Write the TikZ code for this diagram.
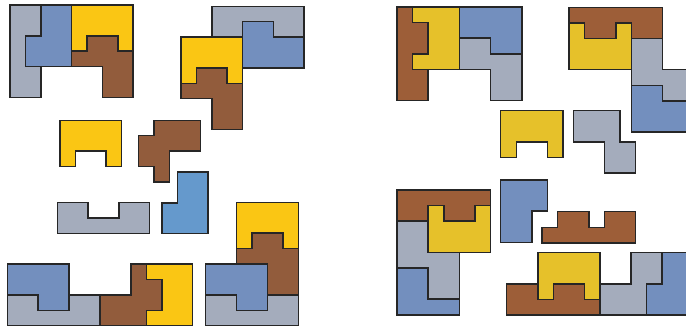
\documentclass[tikz,border=0pt]{standalone}
\definecolor{yelL}{HTML}{FAC614}
\definecolor{yelR}{HTML}{E6C12A}
\definecolor{brnL}{HTML}{925C3C}
\definecolor{brnR}{HTML}{9D5E38}
\definecolor{gry}{HTML}{A4ACBC}
\definecolor{blu}{HTML}{738FBE}
\definecolor{bluL}{HTML}{6599CC}
\tikzset{
  pc/.style={draw=black!85, line width=1.5pt, line join=miter},
  ylL/.style={pc, fill=yelL},
  ylR/.style={pc, fill=yelR},
  brL/.style={pc, fill=brnL},
  brR/.style={pc, fill=brnR},
  gr/.style={pc, fill=gry},
  bl/.style={pc, fill=blu},
  blL/.style={pc, fill=bluL},
}
\begin{document}
\begin{tikzpicture}
\useasboundingbox (0,0) rectangle (686pt,-326pt);
\clip (0,0) rectangle (686pt,-326pt);
\fill[white] (0,0) rectangle (686pt,-326pt);
% G1
\begin{scope}[shift={(10pt,-5pt)},x=15.4pt,y=-15.4pt]
\draw[gr] (0,0)--(2,0)--(2,2)--(1,2)--(1,4)--(2,4)--(2,6)--(0,6)--cycle;
\draw[bl] (2,0)--(4,0)--(4,4)--(1,4)--(1,2)--(2,2)--cycle;
\draw[ylL] (4,0)--(8,0)--(8,3)--(7,3)--(7,2)--(5,2)--(5,3)--(4,3)--cycle;
\draw[brL] (4,3)--(5,3)--(5,2)--(7,2)--(7,3)--(8,3)--(8,6)--(6,6)--(6,4)--(4,4)--cycle;
\end{scope}
% G2
\begin{scope}[shift={(181pt,-6.3pt)},x=15.4pt,y=-15.4pt]
\draw[gr] (2,0)--(8,0)--(8,2)--(6,2)--(6,1)--(4,1)--(4,2)--(2,2)--cycle;
\draw[bl] (4,1)--(6,1)--(6,2)--(8,2)--(8,4)--(4,4)--cycle;
\draw[ylL] (0,2)--(4,2)--(4,5)--(3,5)--(3,4)--(1,4)--(1,5)--(0,5)--cycle;
\draw[brL] (0,5)--(1,5)--(1,4)--(3,4)--(3,5)--(4,5)--(4,8)--(2,8)--(2,6)--(0,6)--cycle;
\end{scope}
% loose left
\begin{scope}[shift={(60pt,-120.3pt)},x=15.4pt,y=-15.4pt]
\draw[ylL] (0,0)--(4,0)--(4,3)--(3,3)--(3,2)--(1,2)--(1,3)--(0,3)--cycle;
\end{scope}
\begin{scope}[shift={(138.7pt,-120.3pt)},x=15.4pt,y=-15.4pt]
\draw[brL] (1,0)--(4,0)--(4,2)--(2,2)--(2,4)--(1,4)--(1,3)--(0,3)--(0,1)--(1,1)--cycle;
\end{scope}
\begin{scope}[shift={(57.3pt,-202.7pt)},x=15.4pt,y=-15.4pt]
\draw[gr] (0,0)--(2,0)--(2,1)--(4,1)--(4,0)--(6,0)--(6,2)--(0,2)--cycle;
\end{scope}
\begin{scope}[shift={(162pt,-172pt)},x=15.4pt,y=-15.4pt]
\draw[blL] (1,0)--(3,0)--(3,4)--(0,4)--(0,2)--(1,2)--cycle;
\end{scope}
% G7 bottom-left
\begin{scope}[shift={(7.3pt,-264pt)},x=15.45pt,y=-15.45pt]
\draw[gr] (0,2)--(2,2)--(2,3)--(4,3)--(4,2)--(6,2)--(6,4)--(0,4)--cycle;
\draw[bl] (0,0)--(4,0)--(4,3)--(2,3)--(2,2)--(0,2)--cycle;
\draw[brL] (6,2)--(8,2)--(8,0)--(9,0)--(9,1)--(10,1)--(10,3)--(9,3)--(9,4)--(6,4)--cycle;
\draw[ylL] (9,0)--(12,0)--(12,4)--(9,4)--(9,3)--(10,3)--(10,1)--(9,1)--cycle;
\end{scope}
% G8 bottom-middle
\begin{scope}[shift={(205.7pt,-202.3pt)},x=15.45pt,y=-15.45pt]
\draw[ylL] (2,0)--(6,0)--(6,3)--(5,3)--(5,2)--(3,2)--(3,3)--(2,3)--cycle;
\draw[brL] (2,3)--(3,3)--(3,2)--(5,2)--(5,3)--(6,3)--(6,6)--(4,6)--(4,4)--(2,4)--cycle;
\draw[gr] (0,6)--(2,6)--(2,7)--(4,7)--(4,6)--(6,6)--(6,8)--(0,8)--cycle;
\draw[bl] (0,4)--(4,4)--(4,7)--(2,7)--(2,6)--(0,6)--cycle;
\end{scope}
% R1
\begin{scope}[shift={(397pt,-7pt)},x=15.6pt,y=-15.6pt]
\draw[brR] (0,0)--(1,0)--(1,1)--(2,1)--(2,3)--(1,3)--(1,4)--(2,4)--(2,6)--(0,6)--cycle;
\draw[ylR] (1,0)--(4,0)--(4,4)--(1,4)--(1,3)--(2,3)--(2,1)--(1,1)--cycle;
\draw[bl] (4,0)--(8,0)--(8,3)--(6,3)--(6,2)--(4,2)--cycle;
\draw[gr] (4,2)--(6,2)--(6,3)--(8,3)--(8,6)--(6,6)--(6,4)--(4,4)--cycle;
\end{scope}
% R2
\begin{scope}[shift={(569pt,-7.3pt)},x=15.6pt,y=-15.6pt]
\draw[brR] (0,0)--(6,0)--(6,2)--(4,2)--(4,1)--(3,1)--(3,2)--(1,2)--(1,1)--(0,1)--cycle;
\draw[ylR] (0,1)--(1,1)--(1,2)--(3,2)--(3,1)--(4,1)--(4,4)--(0,4)--cycle;
\draw[gr] (4,2)--(6,2)--(6,4)--(8,4)--(8,6)--(6,6)--(6,5)--(4,5)--cycle;
\draw[bl] (4,5)--(6,5)--(6,6)--(8,6)--(8,8)--(4,8)--cycle;
\end{scope}
% loose right
\begin{scope}[shift={(500.7pt,-110.7pt)},x=15.6pt,y=-15.6pt]
\draw[ylR] (0,0)--(4,0)--(4,3)--(3,3)--(3,2)--(1,2)--(1,3)--(0,3)--cycle;
\end{scope}
\begin{scope}[shift={(573.3pt,-110.7pt)},x=15.6pt,y=-15.6pt]
\draw[gr] (0,0)--(3,0)--(3,2)--(4,2)--(4,4)--(2,4)--(2,2)--(0,2)--cycle;
\end{scope}
\begin{scope}[shift={(500.7pt,-180pt)},x=15.6pt,y=-15.6pt]
\draw[bl] (0,0)--(3,0)--(3,2)--(2,2)--(2,4)--(0,4)--cycle;
\end{scope}
\begin{scope}[shift={(542pt,-211.7pt)},x=15.6pt,y=-15.6pt]
\draw[brR] (0,1)--(1,1)--(1,0)--(3,0)--(3,1)--(4,1)--(4,0)--(6,0)--(6,2)--(0,2)--cycle;
\end{scope}
% R7
\begin{scope}[shift={(397pt,-190pt)},x=15.6pt,y=-15.6pt]
\draw[brR] (0,0)--(6,0)--(6,1)--(5,1)--(5,2)--(3,2)--(3,1)--(2,1)--(2,2)--(0,2)--cycle;
\draw[ylR] (2,1)--(3,1)--(3,2)--(5,2)--(5,1)--(6,1)--(6,4)--(2,4)--cycle;
\draw[gr] (0,2)--(2,2)--(2,4)--(4,4)--(4,7)--(2,7)--(2,5)--(0,5)--cycle;
\draw[bl] (0,5)--(2,5)--(2,7)--(4,7)--(4,8)--(0,8)--cycle;
\end{scope}
% R8
\begin{scope}[shift={(506.7pt,-252.7pt)},x=15.55pt,y=-15.55pt]
\draw[ylR] (2,0)--(6,0)--(6,3)--(5,3)--(5,2)--(3,2)--(3,3)--(2,3)--cycle;
\draw[brR] (0,2)--(2,2)--(2,3)--(3,3)--(3,2)--(5,2)--(5,3)--(6,3)--(6,4)--(0,4)--cycle;
\draw[gr] (6,2)--(8,2)--(8,0)--(10,0)--(10,2)--(9,2)--(9,4)--(6,4)--cycle;
\draw[bl] (10,0)--(12,0)--(12,4)--(9,4)--(9,2)--(10,2)--cycle;
\end{scope}
\end{tikzpicture}
\end{document}
